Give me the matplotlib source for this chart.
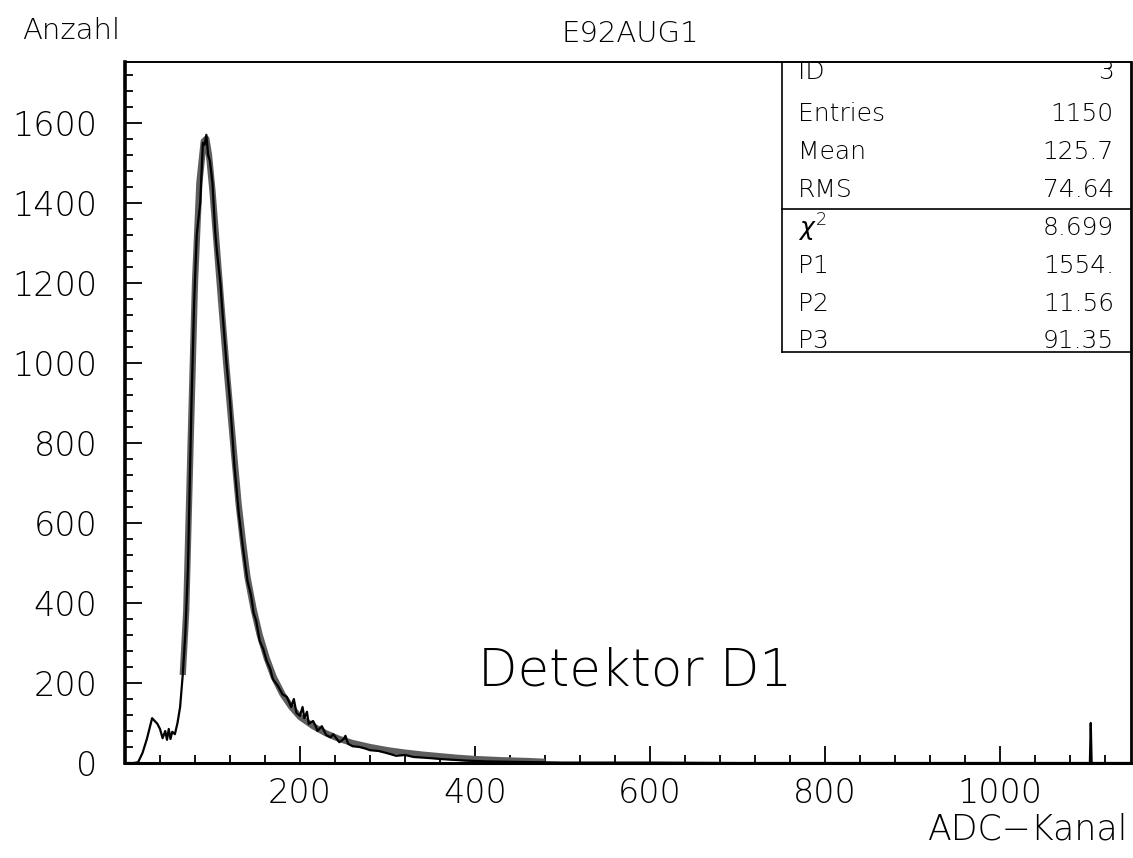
"""PAW-style ADC spectrum of detector D1 with Landau fit (E92AUG1)."""
import matplotlib
matplotlib.use("Agg")
import matplotlib.pyplot as plt
from matplotlib.ticker import MultipleLocator

chan = [0, 10, 15, 20, 25, 31, 34, 37, 40, 43, 46, 48, 50, 52, 54, 57, 60,
        63, 66, 69, 72, 76, 79, 82, 86, 89, 91, 93, 95, 97, 100, 103, 105,
        109, 112, 116, 120, 125, 130, 135, 140, 144, 147, 150, 154, 158, 162,
        166, 169, 175, 180, 185, 188, 190, 193, 196, 200, 203, 205, 208, 210,
        215, 218, 220, 225, 230, 235, 238, 245, 250, 252, 255, 260, 268, 275,
        280, 290, 299, 310, 320, 330, 337, 350, 360, 375, 390, 413, 440, 470,
        500, 600, 700, 800, 900, 1000, 1100, 1103, 1104, 1105, 1150]
counts = [0, 0, 2, 25, 60, 112, 105, 98, 85, 62, 80, 58, 85, 60, 78, 72, 100,
          140, 220, 325, 490, 900, 1150, 1320, 1400, 1550, 1545, 1570, 1520,
          1505, 1450, 1330, 1280, 1200, 1110, 1000, 905, 745, 625, 535, 455,
          420, 375, 355, 305, 285, 255, 235, 210, 192, 172, 165, 150, 140, 160,
          125, 118, 140, 112, 128, 98, 105, 92, 80, 92, 70, 64, 72, 52, 60, 68,
          48, 42, 40, 36, 32, 30, 25, 18, 20, 15, 14, 12, 10, 8, 6, 4, 3, 2,
          1, 1, 0, 0, 0, 0, 0, 0, 100, 0, 0]

# Landau fit curve
fit_chan = [66, 70, 75, 80, 85, 90, 93, 96, 100, 105, 110, 116, 120, 125, 130,
            135, 140, 147, 154, 162, 170, 180, 190, 200, 215, 230, 245, 260,
            280, 300, 320, 340, 360, 380, 400, 430, 460, 480]
fit_counts = [220, 380, 800, 1200, 1450, 1554, 1560, 1520, 1430, 1290, 1150,
              990, 890, 765, 645, 550, 465, 385, 320, 262, 215, 172, 140, 115,
              92, 74, 60, 50, 40, 32, 26, 21, 17, 13, 10, 7, 5, 3]

stat_names = ["ID", "Entries", "Mean", "RMS", r"$\chi^2$", "P1", "P2", "P3"]
stat_values = ["3", "1150", "125.7", "74.64", "8.699", "1554.", "11.56", "91.35"]

plt.rcParams["font.family"] = ["DejaVu Sans"]
plt.rcParams["font.weight"] = "light"
plt.rcParams["mathtext.fontset"] = "dejavusans"

fig = plt.figure(figsize=(11.33, 8.58), dpi=100)
ax = fig.add_axes([125 / 1133, 1 - 763 / 858, (1131 - 125) / 1133, (763 - 62) / 858])

ax.plot(fit_chan, fit_counts, color="#5e5e5e", lw=4.5, solid_capstyle="butt", zorder=2)
ax.plot(chan, counts, color="black", lw=1.6, zorder=3)

ax.set_xlim(0, 1150)
ax.set_ylim(0, 1752)
ax.xaxis.set_minor_locator(MultipleLocator(40))
ax.yaxis.set_major_locator(MultipleLocator(200))
ax.yaxis.set_minor_locator(MultipleLocator(40))
ax.set_xticks([200, 400, 600, 800, 1000])
ax.tick_params(which="both", direction="in", top=False, right=False, width=1.3, color="black")
ax.tick_params(which="major", length=12)
ax.tick_params(which="minor", length=6)
ax.tick_params(axis="x", which="major", labelsize=24, pad=10)
ax.tick_params(axis="y", which="major", labelsize=24, pad=20)
for lab in ax.get_xticklabels() + ax.get_yticklabels():
    lab.set_fontweight("light")
for side, lw in [("left", 2.6), ("bottom", 2.2), ("top", 1.4), ("right", 2.0)]:
    ax.spines[side].set_linewidth(lw)

# statistics box
box_left = (782 - 125) / 1006
box_bottom = (763 - 352) / 701
sep = (763 - 209) / 701
ax.plot([box_left, box_left], [box_bottom, 1], transform=ax.transAxes, color="black", lw=1.2, clip_on=False)
ax.plot([box_left, 1], [box_bottom, box_bottom], transform=ax.transAxes, color="black", lw=1.2, clip_on=False)
ax.plot([box_left, 1], [sep, sep], transform=ax.transAxes, color="black", lw=1.2, clip_on=False)
row_px = [72, 114, 152, 190, 228, 266, 304, 341]
for name, val, py in zip(stat_names, stat_values, row_px):
    yf = (763 - py) / 701
    ax.text((798 - 125) / 1006, yf, name, transform=ax.transAxes, fontsize=18,
            fontweight="light", va="center", ha="left")
    ax.text((1114 - 125) / 1006, yf, val, transform=ax.transAxes, fontsize=18,
            fontweight="light", va="center", ha="right")

ax.text((478 - 125) / 1006, (763 - 686) / 701, "Detektor D1", transform=ax.transAxes,
        fontsize=37, fontweight="light", ha="left", va="baseline")

fig.text(22 / 1133, 1 - 39 / 858, "Anzahl", fontsize=21, fontweight="light", ha="left", va="baseline")
fig.text(630 / 1133, 1 - 42 / 858, "E92AUG1", fontsize=21, fontweight="light", ha="center", va="baseline")
fig.text(1128 / 1133, 1 - 840 / 858, "ADC\u2212Kanal", fontsize=25, fontweight="light", ha="right", va="baseline")

fig.savefig("out.png", dpi=100)
plt.close(fig)
